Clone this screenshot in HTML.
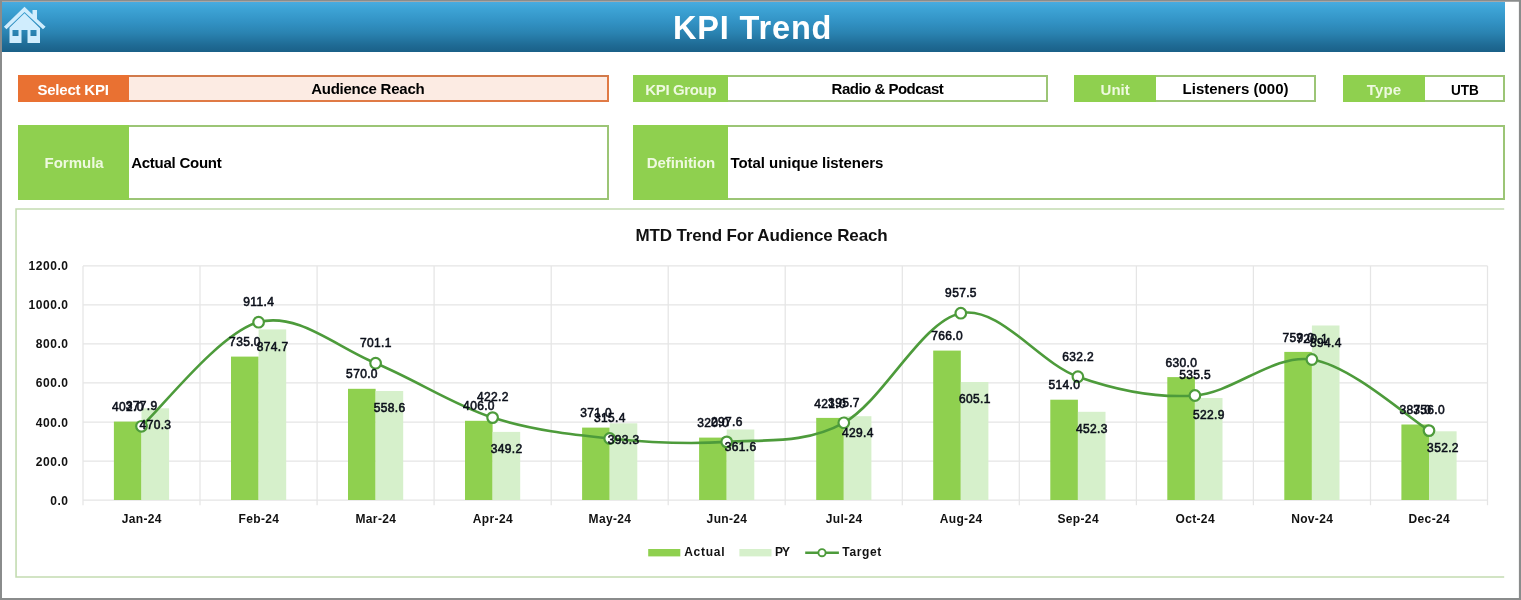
<!DOCTYPE html>
<html lang="en"><head><meta charset="utf-8"><title>KPI Trend</title>
<style>
html,body{margin:0;padding:0;}
body{width:1521px;height:600px;position:relative;overflow:hidden;background:#ffffff;font-family:"Liberation Sans",Arial,sans-serif;}
.frame{position:absolute;left:0;top:0;width:1521px;height:600px;pointer-events:none;}
.hdr{position:absolute;left:2px;top:2px;width:1503px;height:50px;background:linear-gradient(#49abdf 0%,#3da3d5 14%,#3292c4 40%,#2a83b1 62%,#1f6b95 86%,#1a6088 100%);}
.hdr h1{margin:0;position:absolute;left:670.9px;top:0.7px;line-height:50px;white-space:nowrap;color:#fff;font-size:32.5px;font-weight:bold;letter-spacing:0.86px;}
.home{position:absolute;left:-2px;top:-2px;}
.box{position:absolute;box-sizing:border-box;}
.box span{position:absolute;white-space:nowrap;line-height:1;font-size:15px;font-weight:bold;}
.lbl{color:#eef9df;}
.g{background:#8fd04f;}
.o{background:#e97132;color:#fff;}
.val{background:#fff;border:2px solid #9cc576;border-left:none;color:#000;}
.valo{background:#fcebe3;border-color:#d17a4b #e07a45 #e07a45;}
.cframe{position:absolute;left:15.3px;top:208.2px;width:1488.9px;height:369.6px;box-sizing:border-box;background:#fff;}
svg.chart{position:absolute;left:0;top:0;}
svg text{font-family:"Liberation Sans",Arial,sans-serif;}
.ax text{font-size:12px;font-weight:bold;fill:#111;}
.dl text{font-size:12px;fill:#0b0f1a;letter-spacing:0.35px;stroke:#0b0f1a;stroke-width:0.55px;}
.ttl{font-size:17px;font-weight:bold;fill:#111;letter-spacing:-0.155px;}
.lg{font-size:12px;font-weight:bold;fill:#111;}
</style></head><body>
<div class="hdr"><h1>KPI Trend</h1>
<svg class="home" width="50" height="50" viewBox="0 0 50 50">
<g fill="#d0edfd"><path d="M24.5,6.8 L3.9,26.7 L6.5,29.2 L24.5,11.9 L43,29.2 L45.6,26.7 L37,18.9 L37,10 L32.5,10 L32.5,14.5 Z"/>
<path d="M24.5,13.2 L9.5,27.8 L9.5,43 L21.5,43 L21.5,30 L27.5,30 L27.5,43 L40,43 L40,28.2 Z M12.5,30 L18.5,30 L18.5,36 L12.5,36 Z M30.5,30 L36.5,30 L36.5,36 L30.5,36 Z" fill-rule="evenodd"/></g></svg>
</div>
<div class="box lbl o" style="left:18px;top:75px;width:111px;height:27px;"><span style="left:19.4px;top:6.8px;letter-spacing:-0.21px;">Select KPI</span></div>
<div class="box val valo" style="left:129px;top:75px;width:480px;height:27px;"><span style="left:182.2px;top:4.1px;letter-spacing:-0.25px;">Audience Reach</span></div>
<div class="box lbl g" style="left:633px;top:75px;width:95px;height:27px;"><span style="left:12.3px;top:6.6px;letter-spacing:-0.36px;">KPI Group</span></div>
<div class="box val" style="left:728px;top:75px;width:320px;height:27px;"><span style="left:103.6px;top:4.1px;letter-spacing:-0.5px;">Radio &amp; Podcast</span></div>
<div class="box lbl g" style="left:1074px;top:75px;width:82px;height:27px;"><span style="left:26.6px;top:6.8px;letter-spacing:0px;">Unit</span></div>
<div class="box val" style="left:1156px;top:75px;width:160px;height:27px;"><span style="left:26.6px;top:4.1px;letter-spacing:0px;">Listeners (000)</span></div>
<div class="box lbl g" style="left:1343px;top:75px;width:82px;height:27px;"><span style="left:23.8px;top:6.8px;letter-spacing:0.1px;">Type</span></div>
<div class="box val" style="left:1425px;top:75px;width:80px;height:27px;"><span style="left:25.8px;top:4.6px;letter-spacing:0px;display:inline-block;transform:scaleX(0.905);transform-origin:0 0;">UTB</span></div>
<div class="box lbl g" style="left:18px;top:125px;width:111px;height:75px;"><span style="left:26.5px;top:29.9px;letter-spacing:0px;">Formula</span></div>
<div class="box val" style="left:129px;top:125px;width:480px;height:75px;"><span style="left:2.2px;top:27.8px;letter-spacing:-0.25px;">Actual Count</span></div>
<div class="box lbl g" style="left:633px;top:125px;width:95px;height:75px;"><span style="left:13.7px;top:29.7px;letter-spacing:-0.07px;">Definition</span></div>
<div class="box val" style="left:728px;top:125px;width:777px;height:75px;"><span style="left:2.5px;top:27.7px;letter-spacing:-0.05px;">Total unique listeners</span></div>
<div class="cframe"></div>
<svg class="chart" width="1521" height="600" viewBox="0 0 1521 600">
<path d="M1504.2,209 H16.05 V577 H1504.2" fill="none" stroke="#c3dcb1" stroke-width="1.6"/>
<g stroke="#e5e5e5" stroke-width="1.25" fill="none">
<line x1="83.0" y1="500.0" x2="1487.5" y2="500.0"/>
<line x1="83.0" y1="461.0" x2="1487.5" y2="461.0"/>
<line x1="83.0" y1="422.0" x2="1487.5" y2="422.0"/>
<line x1="83.0" y1="382.9" x2="1487.5" y2="382.9"/>
<line x1="83.0" y1="343.9" x2="1487.5" y2="343.9"/>
<line x1="83.0" y1="304.9" x2="1487.5" y2="304.9"/>
<line x1="83.0" y1="265.9" x2="1487.5" y2="265.9"/>
<line x1="83.0" y1="265.9" x2="83.0" y2="505.2"/>
<line x1="200.0" y1="265.9" x2="200.0" y2="505.2"/>
<line x1="317.1" y1="265.9" x2="317.1" y2="505.2"/>
<line x1="434.1" y1="265.9" x2="434.1" y2="505.2"/>
<line x1="551.2" y1="265.9" x2="551.2" y2="505.2"/>
<line x1="668.2" y1="265.9" x2="668.2" y2="505.2"/>
<line x1="785.2" y1="265.9" x2="785.2" y2="505.2"/>
<line x1="902.3" y1="265.9" x2="902.3" y2="505.2"/>
<line x1="1019.3" y1="265.9" x2="1019.3" y2="505.2"/>
<line x1="1136.4" y1="265.9" x2="1136.4" y2="505.2"/>
<line x1="1253.4" y1="265.9" x2="1253.4" y2="505.2"/>
<line x1="1370.5" y1="265.9" x2="1370.5" y2="505.2"/>
<line x1="1487.5" y1="265.9" x2="1487.5" y2="505.2"/>
</g>
<g fill="#8fd04f">
<rect x="113.9" y="421.6" width="27.6" height="78.4"/>
<rect x="231.0" y="356.6" width="27.6" height="143.4"/>
<rect x="348.0" y="388.8" width="27.6" height="111.2"/>
<rect x="465.0" y="420.8" width="27.6" height="79.2"/>
<rect x="582.1" y="427.6" width="27.6" height="72.4"/>
<rect x="699.1" y="437.6" width="27.6" height="62.4"/>
<rect x="816.2" y="417.9" width="27.6" height="82.1"/>
<rect x="933.2" y="350.6" width="27.6" height="149.4"/>
<rect x="1050.3" y="399.7" width="27.6" height="100.3"/>
<rect x="1167.3" y="377.1" width="27.6" height="122.9"/>
<rect x="1284.3" y="351.9" width="27.6" height="148.1"/>
<rect x="1401.4" y="424.5" width="27.6" height="75.5"/>
</g>
<g fill="#d6f0cb">
<rect x="141.5" y="408.3" width="27.6" height="91.7"/>
<rect x="258.6" y="329.4" width="27.6" height="170.6"/>
<rect x="375.6" y="391.0" width="27.6" height="109.0"/>
<rect x="492.6" y="431.9" width="27.6" height="68.1"/>
<rect x="609.7" y="423.3" width="27.6" height="76.7"/>
<rect x="726.7" y="429.5" width="27.6" height="70.5"/>
<rect x="843.8" y="416.2" width="27.6" height="83.8"/>
<rect x="960.8" y="382.0" width="27.6" height="118.0"/>
<rect x="1077.9" y="411.8" width="27.6" height="88.2"/>
<rect x="1194.9" y="398.0" width="27.6" height="102.0"/>
<rect x="1311.9" y="325.5" width="27.6" height="174.5"/>
<rect x="1429.0" y="431.3" width="27.6" height="68.7"/>
</g>
<path d="M141.5,426.3 C161.0,408.9 219.5,332.7 258.6,322.2 C297.6,311.7 336.6,347.3 375.6,363.2 C414.6,379.1 453.6,405.1 492.6,417.6 C531.7,430.2 570.7,434.4 609.7,438.5 C648.7,442.5 687.7,444.6 726.7,441.9 C765.7,439.3 804.8,444.3 843.8,422.8 C882.8,401.3 921.8,320.9 960.8,313.2 C999.8,305.5 1038.8,362.9 1077.9,376.7 C1116.9,390.4 1155.9,398.4 1194.9,395.5 C1233.9,392.7 1272.9,353.7 1311.9,359.5 C1351.0,365.4 1409.5,418.7 1429.0,430.6" fill="none" stroke="#4d9b3b" stroke-width="2.6" stroke-linecap="round"/>
<g fill="#ffffff" stroke="#4d9b3b" stroke-width="2.2">
<circle cx="141.5" cy="426.3" r="5.3"/>
<circle cx="258.6" cy="322.2" r="5.3"/>
<circle cx="375.6" cy="363.2" r="5.3"/>
<circle cx="492.6" cy="417.6" r="5.3"/>
<circle cx="609.7" cy="438.5" r="5.3"/>
<circle cx="726.7" cy="441.9" r="5.3"/>
<circle cx="843.8" cy="422.8" r="5.3"/>
<circle cx="960.8" cy="313.2" r="5.3"/>
<circle cx="1077.9" cy="376.7" r="5.3"/>
<circle cx="1194.9" cy="395.5" r="5.3"/>
<circle cx="1311.9" cy="359.5" r="5.3"/>
<circle cx="1429.0" cy="430.6" r="5.3"/>
</g>
<g class="ax" text-anchor="end" style="letter-spacing:0.55px">
<text x="68.6" y="504.5">0.0</text>
<text x="68.6" y="465.5">200.0</text>
<text x="68.6" y="426.5">400.0</text>
<text x="68.6" y="387.4">600.0</text>
<text x="68.6" y="348.4">800.0</text>
<text x="68.6" y="309.4">1000.0</text>
<text x="68.6" y="270.4">1200.0</text>
</g>
<g class="ax" text-anchor="middle" style="letter-spacing:0.35px">
<text x="141.8" y="523.4">Jan-24</text>
<text x="258.9" y="523.4">Feb-24</text>
<text x="375.9" y="523.4">Mar-24</text>
<text x="492.9" y="523.4">Apr-24</text>
<text x="610.0" y="523.4">May-24</text>
<text x="727.0" y="523.4">Jun-24</text>
<text x="844.1" y="523.4">Jul-24</text>
<text x="961.1" y="523.4">Aug-24</text>
<text x="1078.2" y="523.4">Sep-24</text>
<text x="1195.2" y="523.4">Oct-24</text>
<text x="1312.2" y="523.4">Nov-24</text>
<text x="1429.3" y="523.4">Dec-24</text>
</g>
<g class="dl" text-anchor="middle">
<text x="127.9" y="411.2">402.0</text>
<text x="155.5" y="429.4">470.3</text>
<text x="141.7" y="410.1">377.9</text>
<text x="245.0" y="346.2">735.0</text>
<text x="272.6" y="350.5">874.7</text>
<text x="258.8" y="306.0">911.4</text>
<text x="362.0" y="378.4">570.0</text>
<text x="389.6" y="412.1">558.6</text>
<text x="375.8" y="347.0">701.1</text>
<text x="479.0" y="410.4">406.0</text>
<text x="506.6" y="453.0">349.2</text>
<text x="492.8" y="401.4">422.2</text>
<text x="596.1" y="417.2">371.0</text>
<text x="623.7" y="444.4">393.3</text>
<text x="609.9" y="422.3">315.4</text>
<text x="713.1" y="427.2">320.0</text>
<text x="740.7" y="450.6">361.6</text>
<text x="726.9" y="425.7">297.6</text>
<text x="830.2" y="407.5">421.0</text>
<text x="857.8" y="437.3">429.4</text>
<text x="844.0" y="406.6">395.7</text>
<text x="947.2" y="340.2">766.0</text>
<text x="974.8" y="403.1">605.1</text>
<text x="961.0" y="297.0">957.5</text>
<text x="1064.3" y="389.3">514.0</text>
<text x="1091.9" y="432.9">452.3</text>
<text x="1078.1" y="360.5">632.2</text>
<text x="1181.3" y="366.7">630.0</text>
<text x="1208.9" y="419.1">522.9</text>
<text x="1195.1" y="379.3">535.5</text>
<text x="1298.3" y="341.5">759.0</text>
<text x="1325.9" y="346.6">894.4</text>
<text x="1312.1" y="343.3">720.1</text>
<text x="1415.4" y="414.1">387.0</text>
<text x="1443.0" y="452.4">352.2</text>
<text x="1429.2" y="414.4">356.0</text>
</g>
<text class="ttl" x="635.5" y="240.9">MTD Trend For Audience Reach</text>
<rect x="648.2" y="549" width="32.1" height="7.4" fill="#8fd04f"/>
<text class="lg" x="684.2" y="556.4" style="letter-spacing:0.75px">Actual</text>
<rect x="739.4" y="549" width="32.1" height="7.4" fill="#d6f0cb"/>
<text class="lg" x="775" y="556.4" style="letter-spacing:-1px">PY</text>
<line x1="805.2" y1="552.7" x2="838.9" y2="552.7" stroke="#4d9b3b" stroke-width="2.4"/>
<circle cx="822" cy="552.7" r="3.6" fill="#fff" stroke="#4d9b3b" stroke-width="1.9"/>
<text class="lg" x="842.3" y="556.4" style="letter-spacing:0.65px">Target</text>
</svg>
<svg class="frame" width="1521" height="600" viewBox="0 0 1521 600"><path fill="#8a8c8c" fill-rule="evenodd" d="M0,0H1521V600H0Z M2,1.7V598H1518.9V1.7Z"/></svg>
</body></html>
